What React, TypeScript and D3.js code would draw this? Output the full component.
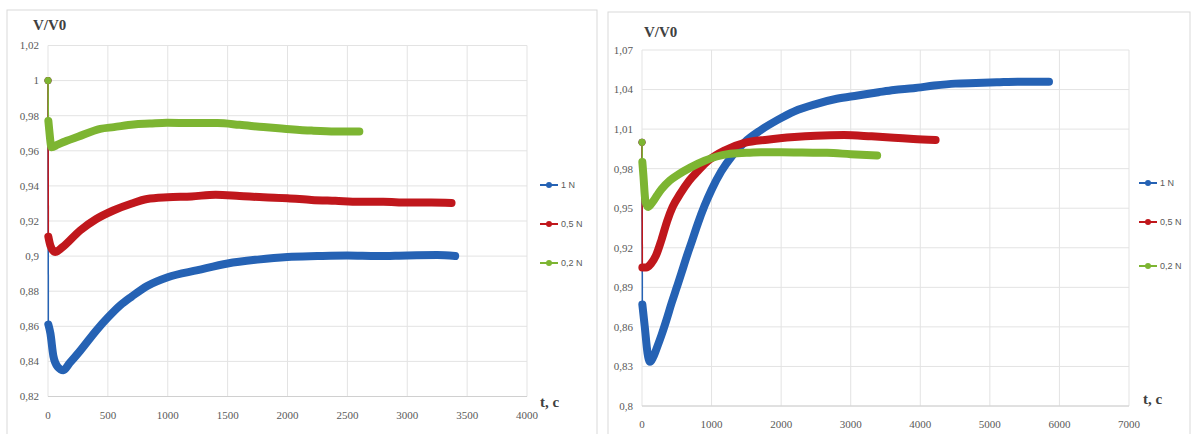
import React from "react";
import * as d3 from "d3";

// ---------- DATA ----------
const seriesNames = ["1 N", "0,5 N", "0,2 N"];

// Left chart
const leftXTicks = [0, 500, 1000, 1500, 2000, 2500, 3000, 3500, 4000];
const leftYTicks = [0.82, 0.84, 0.86, 0.88, 0.9, 0.92, 0.94, 0.96, 0.98, 1, 1.02];
const leftYTickLabels = ["0,82", "0,84", "0,86", "0,88", "0,9", "0,92", "0,94", "0,96", "0,98", "1", "1,02"];

const leftT1 = [0, 3, 20, 45, 80, 128, 180, 268, 408, 500, 604, 700, 828, 1000, 1250, 1500, 1750, 2000, 2250, 2500, 2750, 3000, 3250, 3400];
const leftV1 = [1, 0.861, 0.856, 0.843, 0.837, 0.835, 0.839, 0.846, 0.858, 0.865, 0.872, 0.877, 0.883, 0.888, 0.892, 0.8958, 0.898, 0.8995, 0.9, 0.9003, 0.9, 0.9004, 0.9006, 0.9];

const leftT05 = [0, 3, 20, 60, 120, 268, 400, 545, 700, 828, 1000, 1200, 1400, 1600, 1800, 2000, 2200, 2400, 2600, 2800, 3000, 3200, 3370];
const leftV05 = [1, 0.911, 0.906, 0.9023, 0.905, 0.9146, 0.921, 0.926, 0.93, 0.9325, 0.9335, 0.934, 0.935, 0.9343, 0.9335, 0.933, 0.932, 0.9315, 0.931, 0.931, 0.9305, 0.9305, 0.9303];

const leftT02 = [0, 3, 10, 30, 80, 157, 250, 436, 550, 715, 850, 995, 1200, 1415, 1600, 1800, 1970, 2200, 2400, 2600];
const leftV02 = [1, 0.977, 0.972, 0.962, 0.9635, 0.9657, 0.968, 0.9725, 0.9735, 0.975, 0.9755, 0.976, 0.9758, 0.9758, 0.9748, 0.9735, 0.9726, 0.9715, 0.971, 0.971];

// Right chart
const rightXTicks = [0, 1000, 2000, 3000, 4000, 5000, 6000, 7000];
const rightYTicks = [0.8, 0.83, 0.86, 0.89, 0.92, 0.95, 0.98, 1.01, 1.04, 1.07];
const rightYTickLabels = ["0,8", "0,83", "0,86", "0,89", "0,92", "0,95", "0,98", "1,01", "1,04", "1,07"];

const rightT1 = [0, 5, 40, 80, 115, 160, 220, 282, 350, 425, 500, 568, 640, 711, 800, 900, 1000, 1140, 1300, 1474, 1700, 1950, 2190, 2500, 2800, 3100, 3400, 3620, 3900, 4200, 4500, 4800, 5100, 5400, 5700, 5850];
const rightV1 = [1, 0.877, 0.86, 0.84, 0.8335, 0.837, 0.845, 0.854, 0.865, 0.878, 0.89, 0.901, 0.913, 0.924, 0.938, 0.952, 0.964, 0.978, 0.99, 1.0, 1.009, 1.017, 1.0235, 1.029, 1.033, 1.0355, 1.038, 1.0397, 1.041, 1.043, 1.0445, 1.045, 1.0455, 1.046, 1.046, 1.046];

const rightT05 = [0, 5, 60, 130, 200, 280, 360, 440, 550, 680, 800, 950, 1193, 1474, 1800, 2190, 2500, 2904, 3300, 3620, 3900, 4220];
const rightV05 = [1, 0.905, 0.905, 0.908, 0.914, 0.926, 0.94, 0.951, 0.961, 0.971, 0.978, 0.986, 0.994, 0.9995, 1.002, 1.004, 1.005, 1.0055, 1.0045, 1.0035, 1.0025, 1.0017];

const rightT02 = [0, 5, 20, 50, 90, 150, 220, 282, 400, 520, 700, 900, 1230, 1500, 1710, 2000, 2300, 2660, 3000, 3380];
const rightV02 = [1, 0.985, 0.975, 0.955, 0.951, 0.9545, 0.96, 0.9645, 0.971, 0.9755, 0.981, 0.986, 0.991, 0.992, 0.9925, 0.9925, 0.9922, 0.992, 0.991, 0.990];

const colors = ["#2562b4", "#c0171c", "#7db532"];

type Series = { t: number[]; v: number[] };

const leftSeries: Series[] = [
  { t: leftT1, v: leftV1 },
  { t: leftT05, v: leftV05 },
  { t: leftT02, v: leftV02 },
];
const rightSeries: Series[] = [
  { t: rightT1, v: rightV1 },
  { t: rightT05, v: rightV05 },
  { t: rightT02, v: rightV02 },
];

type PanelProps = {
  box: [number, number, number, number];
  plot: { x0: number; x1: number; yTop: number; yBot: number };
  xDomain: [number, number];
  yDomain: [number, number];
  xTicks: number[];
  yTicks: number[];
  yTickLabels: string[];
  series: Series[];
  yLabelPos: [number, number];
  xLabelPos: [number, number];
  xTickLabelY: number;
  legend: { x: number; ys: number[] };
};

const tickFont = "'Liberation Serif', 'DejaVu Serif', serif";

function Panel(p: PanelProps) {
  const x = d3.scaleLinear().domain(p.xDomain).range([p.plot.x0, p.plot.x1]);
  const y = d3.scaleLinear().domain(p.yDomain).range([p.plot.yBot, p.plot.yTop]);
  const line = d3
    .line<[number, number]>()
    .x((d) => x(d[0]))
    .y((d) => y(d[1]))
    .curve(d3.curveMonotoneX);
  const [bx, by, bw, bh] = p.box;
  return (
    <g>
      <rect x={bx} y={by} width={bw} height={bh} fill="#fff" stroke="#d9d9d9" strokeWidth={1} />
      {p.yTicks.map((t, i) => (
        <line key={"gy" + i} x1={p.plot.x0} x2={p.plot.x1} y1={y(t)} y2={y(t)} stroke="#e3e3e3" strokeWidth={1} />
      ))}
      {p.xTicks.map((t, i) => (
        <line key={"gx" + i} x1={x(t)} x2={x(t)} y1={p.plot.yTop} y2={p.plot.yBot} stroke="#e3e3e3" strokeWidth={1} />
      ))}
      <line x1={p.plot.x0} x2={p.plot.x1} y1={p.plot.yBot} y2={p.plot.yBot} stroke="#d0d0d0" strokeWidth={1} />
      {p.yTicks.map((t, i) => (
        <text key={"ly" + i} x={p.plot.x0 - 9} y={y(t)} dy="0.35em" textAnchor="end" fontSize={11} fill="#595959" fontFamily={tickFont}>
          {p.yTickLabels[i]}
        </text>
      ))}
      {p.xTicks.map((t, i) => (
        <text key={"lx" + i} x={x(t)} y={p.xTickLabelY} dy="0.35em" textAnchor="middle" fontSize={11} fill="#595959" fontFamily={tickFont}>
          {String(t)}
        </text>
      ))}
      <text x={p.yLabelPos[0]} y={p.yLabelPos[1]} dy="0.35em" fontSize={15} fill="#404040" fontFamily={tickFont} fontWeight="bold">
        V/V0
      </text>
      <text x={p.xLabelPos[0]} y={p.xLabelPos[1]} dy="0.35em" fontSize={15} fill="#404040" fontFamily={tickFont} fontWeight="bold">
        t, c
      </text>
      {p.series.map((s, i) => {
        const pts: [number, number][] = s.t.map((t, k) => [t, s.v[k]]);
        const head = pts.slice(0, 2);
        const body = pts.slice(1);
        return (
          <g key={"s" + i}>
            <path d={line(head) || ""} fill="none" stroke={colors[i]} strokeWidth={1.5} />
            <path d={line(body) || ""} fill="none" stroke={colors[i]} strokeWidth={8} strokeLinecap="round" strokeLinejoin="round" />
            <circle cx={x(pts[0][0])} cy={y(pts[0][1])} r={3.5} fill={colors[i]} />
          </g>
        );
      })}
      {seriesNames.map((n, i) => (
        <g key={"lg" + i}>
          <line x1={p.legend.x} x2={p.legend.x + 18} y1={p.legend.ys[i]} y2={p.legend.ys[i]} stroke={colors[i]} strokeWidth={2} />
          <circle cx={p.legend.x + 9} cy={p.legend.ys[i]} r={3} fill={colors[i]} />
          <text x={p.legend.x + 21} y={p.legend.ys[i]} dy="0.35em" fontSize={9} fill="#595959" fontFamily="'Liberation Sans', Arial, sans-serif">
            {n}
          </text>
        </g>
      ))}
    </g>
  );
}

export default function App() {
  return (
    <svg width={1194} height={434} style={{ position: "absolute", left: 0, top: 0, background: "#fff" }}>
      <rect x={0} y={0} width={1194} height={434} fill="#fff" />
      <Panel
        box={[7, 10, 590, 440]}
        plot={{ x0: 48, x1: 527, yTop: 45.5, yBot: 396.5 }}
        xDomain={[0, 4000]}
        yDomain={[0.82, 1.02]}
        xTicks={leftXTicks}
        yTicks={leftYTicks}
        yTickLabels={leftYTickLabels}
        series={leftSeries}
        yLabelPos={[33, 25]}
        xLabelPos={[540, 402]}
        xTickLabelY={415}
        legend={{ x: 540, ys: [185, 224, 263] }}
      />
      <Panel
        box={[608, 12, 582, 440]}
        plot={{ x0: 642, x1: 1129, yTop: 50, yBot: 406 }}
        xDomain={[0, 7000]}
        yDomain={[0.8, 1.07]}
        xTicks={rightXTicks}
        yTicks={rightYTicks}
        yTickLabels={rightYTickLabels}
        series={rightSeries}
        yLabelPos={[644, 32]}
        xLabelPos={[1143, 399]}
        xTickLabelY={424}
        legend={{ x: 1139, ys: [183, 222, 266] }}
      />
    </svg>
  );
}
